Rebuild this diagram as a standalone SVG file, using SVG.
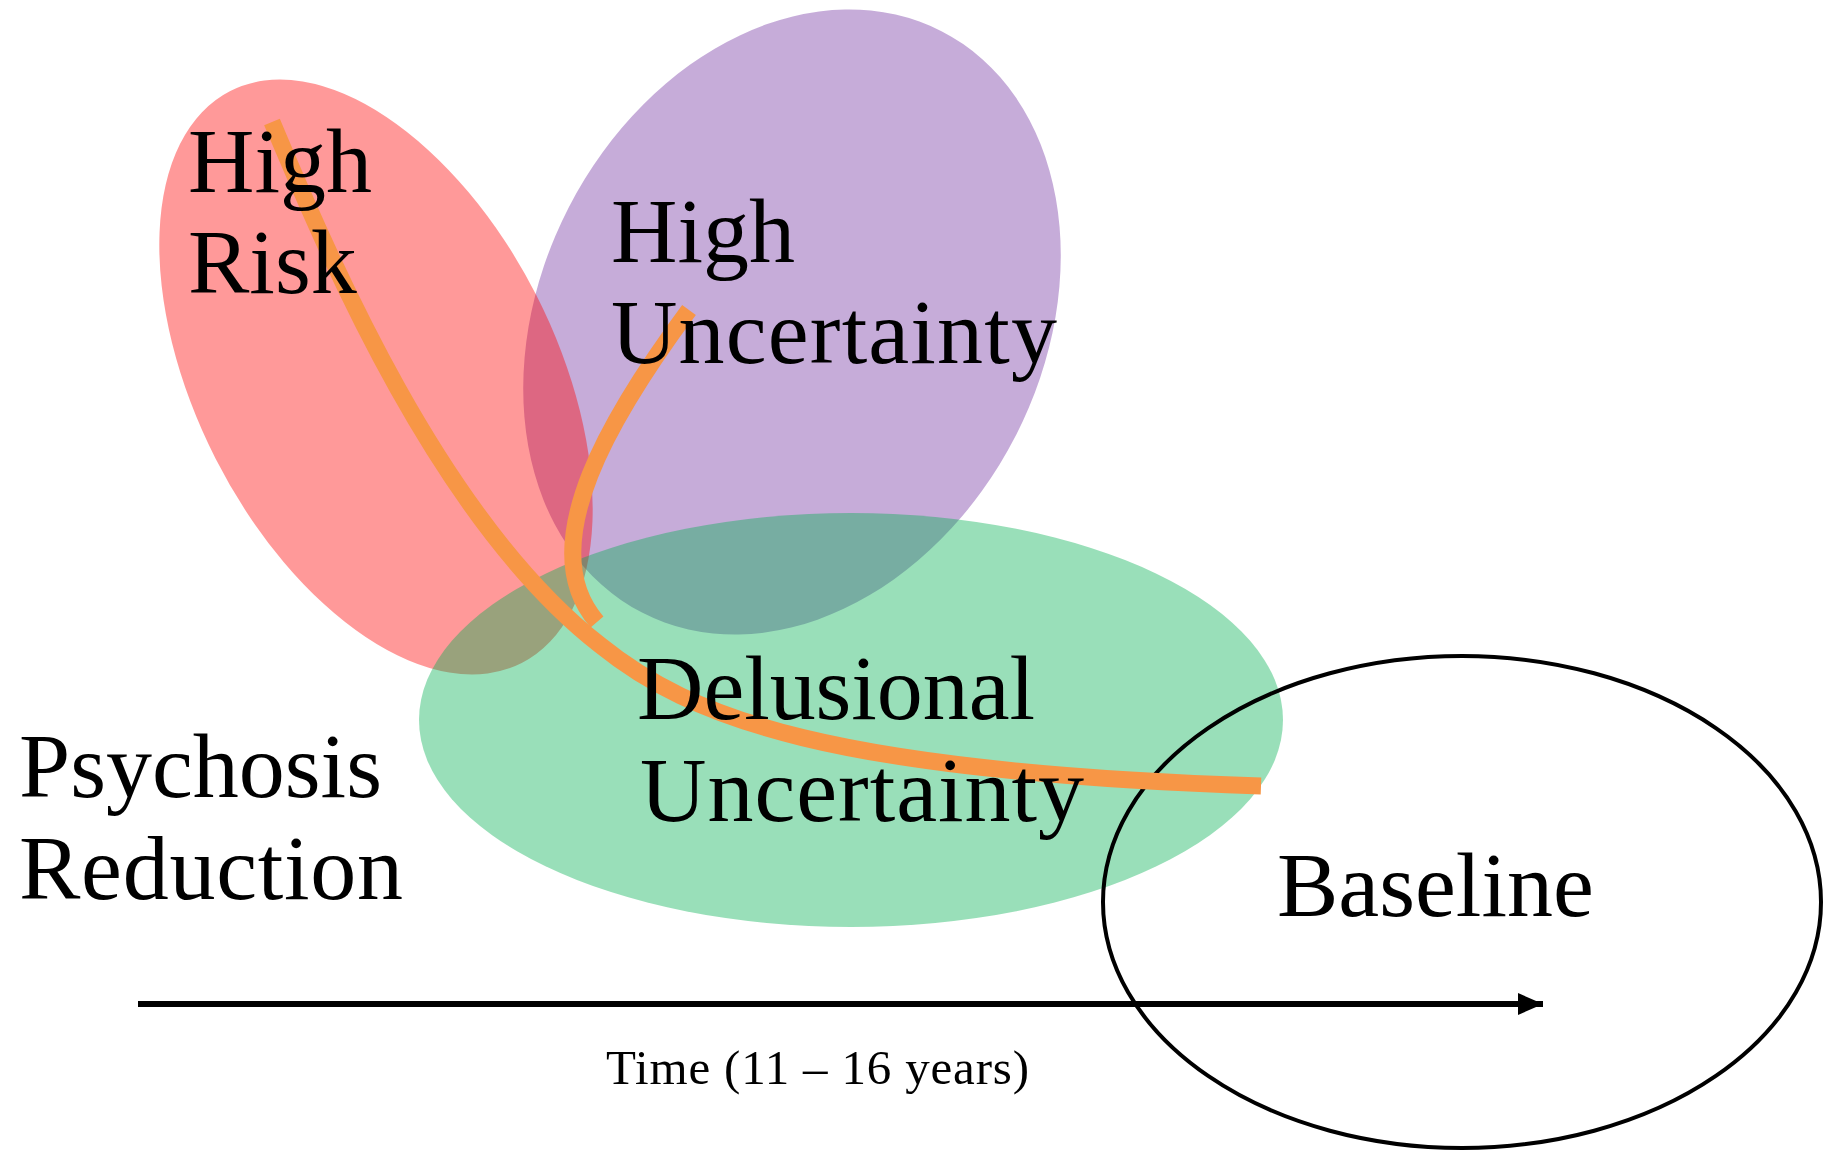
<svg xmlns="http://www.w3.org/2000/svg" width="1824" height="1150" viewBox="0 0 1824 1150">
<defs>
<style>
.lbl{font-family:"Liberation Serif","Times New Roman",serif;font-size:92px;fill:#000}
.small{font-size:49px}
.curve{fill:none;stroke:#F79646;stroke-width:17;stroke-linecap:butt}
</style>
<marker id="arrowhead" markerWidth="26" markerHeight="24" refX="25" refY="11" orient="auto" markerUnits="userSpaceOnUse">
<path d="M0,0 L25,11 L0,22 Z" fill="#000"/>
</marker>
</defs>
<rect width="1824" height="1150" fill="#fff"/>
<g id="node-high-uncertainty">
<ellipse cx="792" cy="322" rx="251" ry="327" transform="rotate(27.3 792 322)" fill="#7030A0" fill-opacity="0.4"/>
</g>
<g id="node-high-risk">
<ellipse cx="376" cy="377" rx="180" ry="321" transform="rotate(-27 376 377)" fill="#FF0000" fill-opacity="0.4"/>
</g>
<g id="node-delusional-uncertainty">
<ellipse cx="851" cy="720" rx="432" ry="207" fill="#00B050" fill-opacity="0.4"/>
</g>
<g id="node-baseline">
<ellipse cx="1462" cy="902" rx="359" ry="246" fill="none" stroke="#000" stroke-width="4"/>
</g>
<g id="connectors">
<path class="curve" d="M272,122 C330,260 440,520 600,645 C690,718 830,772 1261,786"/>
<path class="curve" d="M689,310 C615,410 530,545 597,622"/>
<line x1="138" y1="1004" x2="1543" y2="1004" stroke="#000" stroke-width="6" marker-end="url(#arrowhead)"/>
</g>
<g id="label-high-risk"><text class="lbl" x="188" y="192">High</text><text class="lbl" x="188" y="293">Risk</text></g>
<g id="label-high-uncertainty"><text class="lbl" x="611" y="262">High</text><text class="lbl" x="611" y="363" textLength="446">Uncertainty</text></g>
<g id="label-delusional-uncertainty"><text class="lbl" x="637" y="719" textLength="398">Delusional</text><text class="lbl" x="640" y="821" textLength="444">Uncertainty</text></g>
<g id="label-psychosis-reduction"><text class="lbl" x="19" y="797">Psychosis</text><text class="lbl" x="19" y="899" textLength="384">Reduction</text></g>
<g id="label-baseline"><text class="lbl" x="1277" y="916">Baseline</text></g>
<g id="label-time"><text class="lbl small" x="606" y="1084" textLength="423">Time (11 – 16 years)</text></g>
</svg>
